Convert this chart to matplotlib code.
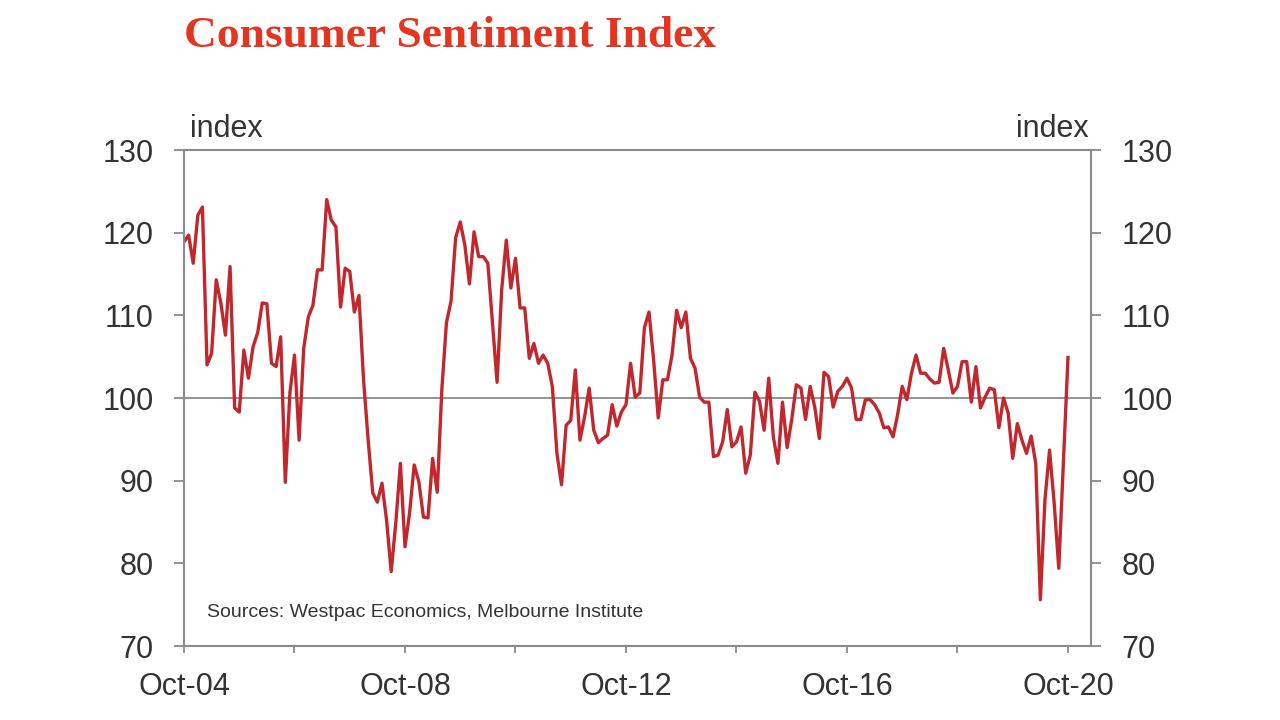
import numpy as np
import matplotlib
matplotlib.use("Agg")
from matplotlib import pyplot as plt

# Westpac-MI consumer sentiment, monthly, Oct-04 .. Oct-20
sent_04_08 = [118.9, 119.7, 116.3, 122.1, 123.1, 104.0, 105.4, 114.3, 111.5, 107.6,
              115.9, 98.8, 98.3, 105.8, 102.4, 106.2, 107.9, 111.5, 111.4, 104.2,
              103.8, 107.4, 89.8, 100.6, 105.2, 94.9, 106.0, 109.8, 111.2, 115.5,
              115.5, 124.0, 121.5, 120.7, 111.0, 115.7, 115.3, 110.4, 112.4, 102.2,
              94.9, 88.5, 87.4, 89.7, 85.2, 79.0, 84.9, 92.1]
sent_08_12 = [82.0, 86.1, 91.9, 89.9, 85.6, 85.5, 92.7, 88.6, 101.0, 109.1,
              111.7, 119.4, 121.3, 118.5, 113.8, 120.1, 117.1, 117.1, 116.3, 109.1,
              101.9, 113.1, 119.1, 113.3, 116.9, 110.9, 110.9, 104.8, 106.6, 104.2,
              105.2, 104.2, 101.4, 93.3, 89.5, 96.7, 97.3, 103.4, 94.9, 97.7,
              101.2, 96.1, 94.6, 95.1, 95.5, 99.2, 96.6, 98.3]
sent_12_16 = [99.2, 104.2, 100.1, 100.6, 108.5, 110.4, 104.6, 97.6, 102.2, 102.2,
              105.2, 110.6, 108.5, 110.4, 104.8, 103.6, 100.1, 99.5, 99.5, 92.9,
              93.1, 94.7, 98.6, 94.1, 94.7, 96.5, 90.9, 93.1, 100.7, 99.6,
              96.1, 102.4, 95.3, 92.1, 99.5, 94.0, 97.4, 101.6, 101.2, 97.4,
              101.4, 98.9, 95.1, 103.1, 102.6, 98.9, 100.8, 101.4]
sent_16_20 = [102.4, 101.2, 97.4, 97.4, 99.8, 99.8, 99.2, 98.2, 96.4, 96.5,
              95.3, 98.0, 101.4, 99.8, 103.0, 105.2, 103.0, 103.0, 102.3, 101.8,
              101.9, 106.0, 103.4, 100.6, 101.4, 104.4, 104.4, 99.5, 103.8, 98.8,
              100.1, 101.2, 101.0, 96.4, 100.0, 98.2, 92.7, 96.9, 94.9, 93.3,
              95.4, 92.1, 75.6, 87.7, 93.7, 87.3, 79.4, 92.0, 104.9]

tick_labels = ["Oct-04", "Oct-08", "Oct-12", "Oct-16", "Oct-20"]

sentiment = np.array(sent_04_08 + sent_08_12 + sent_12_16 + sent_16_20)
months = np.arange(len(sentiment))

grey = "#8a8a8a"
txt = "#333333"

fig = plt.figure(figsize=(12.8, 7.2), dpi=100)
ax = fig.add_axes([184/1280, 1 - 646/720, (1091 - 184)/1280, (646 - 150)/720])

ax.axhline(100, color=grey, lw=1.3, zorder=1)
ax.plot(months, sentiment, color="#C1272D", lw=2.4, zorder=2)

ax.set_xlim(0, 197)
ax.set_ylim(70, 130)
ax.set_yticks(np.arange(70, 131, 10))
ax.set_xticks(np.arange(0, 193, 24))
ax.set_xticklabels([tick_labels[i // 2] if i % 2 == 0 else "" for i in range(9)])

for s in ax.spines.values():
    s.set_color(grey)
    s.set_linewidth(1.5)

ax.tick_params(axis="y", which="both", left=True, right=True, labelleft=True,
               labelright=True, direction="out", length=7, width=1.3, color=grey,
               labelsize=22, labelcolor=txt, pad=15)
ax.tick_params(axis="x", direction="out", length=5, width=1.3, color=grey,
               labelsize=22, labelcolor=txt, pad=14)
for lab in ax.get_xticklabels() + ax.get_yticklabels():
    lab.set_family("Liberation Sans")

ax.text(0.007, 1.012, "index", transform=ax.transAxes, fontsize=22,
        family="Liberation Sans", color=txt, ha="left", va="bottom")
ax.text(0.997, 1.012, "index", transform=ax.transAxes, fontsize=22,
        family="Liberation Sans", color=txt, ha="right", va="bottom")
ax.text(5, 74.1, "Sources: Westpac Economics, Melbourne Institute", fontsize=14,
        family="Liberation Sans", color=txt, va="center")

fig.text(184/1280, 1 - 47/720, "Consumer Sentiment Index", family="Liberation Serif",
         weight="bold", fontsize=32.7, color="#E5341F", va="baseline")

plt.savefig("out.png", dpi=100)
